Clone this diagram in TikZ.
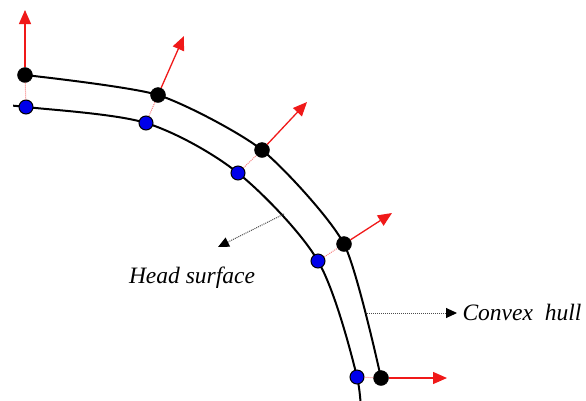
\documentclass[tikz,border=0pt]{standalone}
\usepackage{fontspec}
\setmainfont{Liberation Serif}
\usetikzlibrary{arrows.meta,positioning,calc}
\definecolor{normred}{RGB}{240,25,25}
\definecolor{ptblue}{RGB}{0,0,235}

\begin{document}
\begin{tikzpicture}[x=1pt,y=-1pt,
  hullpt/.style={circle,fill=black,draw=black,inner sep=0pt,minimum size=15pt},
  headpt/.style={circle,fill=ptblue,draw=black,line width=1pt,inner sep=0pt,minimum size=14pt},
  normal/.style={normred,line width=1.3pt,-{Triangle[length=14pt,width=12pt]}},
  link/.style={normred!55,densely dotted,line width=1pt},
  callout/.style={black!70,densely dotted,line width=1pt,-{Triangle[length=11pt,width=10pt,black]}},
  lbl/.style={font=\fontsize{23.5}{26}\selectfont\itshape}]
\useasboundingbox (0,0) rectangle (586,400);
\clip (13,0) rectangle (586,400);
% points of the hull and of the head
\coordinate (c1) at (25,75);
\coordinate (c2) at (158,95);
\coordinate (c3) at (262,150);
\coordinate (c4) at (344,244);
\coordinate (c5) at (381,378);
\coordinate (s0) at (-15,104);
\coordinate (s1) at (26,107);
\coordinate (s2) at (146,123);
\coordinate (s3) at (238,173);
\coordinate (s4) at (318,261);
\coordinate (s5) at (357,377);
\coordinate (s6) at (361,440);
\draw[line width=2pt] plot[smooth,tension=0.4] coordinates {(c1)(c2)(c3)(c4)(c5)};
\draw[line width=2pt] plot[smooth,tension=0.5] coordinates {(s0)(s1)(s2)(s3)(s4)(s5)(s6)};
% normal tips
\coordinate (n1) at (25,10);
\coordinate (n2) at (184,36);
\coordinate (n3) at (307,102);
\coordinate (n4) at (392,213);
\coordinate (n5) at (447,378);
\foreach \i in {1,...,5}{
  \node[headpt] (h\i) at (s\i) {};
  \node[hullpt] (p\i) at (c\i) {};
  \draw[link] (h\i) -- (p\i);
  \draw[normal] (p\i) -- (n\i);
}
% labels
\coordinate (hsfrom) at (284,214);
\coordinate (hsto) at (218,247);
\draw[callout] (hsfrom) -- (hsto);
\node[lbl] (hslbl) at (192,278) {Head surface};
\coordinate (cxfrom) at (367,313);
\coordinate (cxto) at (457,313);
\draw[callout] (cxfrom) -- (cxto);
\node[lbl,anchor=west] (cxlbl) at (459,312) {Convex\ \ hull};
\end{tikzpicture}
\end{document}
